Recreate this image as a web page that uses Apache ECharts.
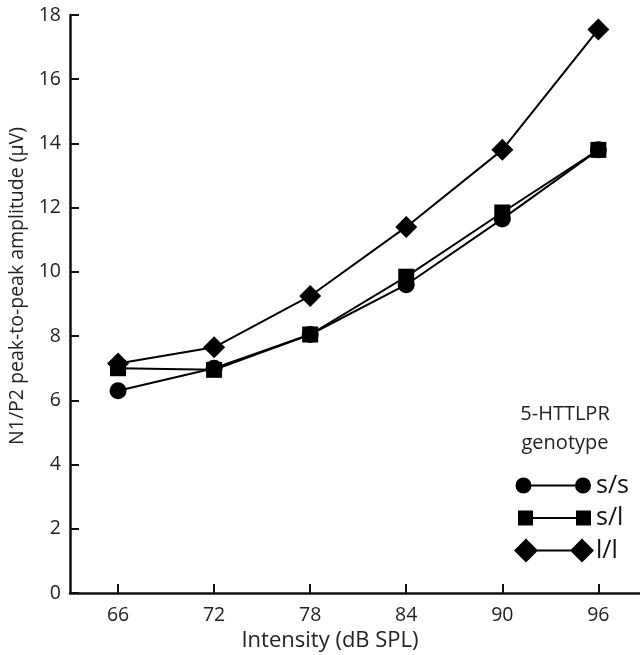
<!DOCTYPE html>
<html>
<head>
<meta charset="utf-8">
<script src="https://cdn.jsdelivr.net/npm/echarts@6/dist/echarts.min.js"></script>
<style>
  html, body { margin: 0; padding: 0; background: #fff; }
  #chart { width: 640px; height: 655px; }
</style>
</head>
<body>
<div id="chart"></div>
<script>
// intensity levels (dB SPL)
var intensity = [66, 72, 78, 84, 90, 96];
// N1/P2 amplitude (µV) per genotype
var ssVals = [6.3, 7.0, 8.05, 9.6, 11.65, 13.8];
var slVals = [7.0, 6.95, 8.05, 9.85, 11.85, 13.8];
var llVals = [7.15, 7.65, 9.25, 11.4, 13.8, 17.55];
var genotypes = ['s/s', 's/l', 'l/l'];

var font = '"Open Sans", "Liberation Sans", sans-serif';

function pairs(vals) {
  return intensity.map(function (x, i) { return [x, vals[i]]; });
}

// legend icons (80x24 box): marker - line - marker
// tiny corner specks keep every icon's bounding box the same
var corners = 'M0,0L0.01,0L0,0.01Z M80,24L79.99,24L80,23.99Z ';
var iconCircle = 'path://' + corners +
  'M1.5,12A8,8 0 1,1 17.5,12A8,8 0 1,1 1.5,12Z M16,11L62,11L62,13L16,13Z M61,12A8,8 0 1,1 77,12A8,8 0 1,1 61,12Z';
var iconSquare = 'path://' + corners +
  'M4,4.5L19,4.5L19,19.5L4,19.5Z M18,11L63,11L63,13L18,13Z M62,4.5L77,4.5L77,19.5L62,19.5Z';
var iconDiamond = 'path://' + corners +
  'M0,12L12,0L24,12L12,24Z M22,11L58,11L58,13L22,13Z M56,12L68,0L80,12L68,24Z';

var seriesBase = {
  type: 'line',
  lineStyle: {color: '#000', width: 2},
  itemStyle: {color: '#000'},
  symbolKeepAspect: true,
  z: 3
};

var chart = echarts.init(document.getElementById('chart'));
chart.setOption({
  animation: false,
  backgroundColor: '#fff',
  grid: {left: 70, right: 0, top: 15, bottom: 62, outerBoundsMode: 'none'},
  textStyle: {fontFamily: font},
  legend: {
    orient: 'vertical',
    left: 509,
    top: 468,
    itemWidth: 80,
    itemHeight: 24,
    itemGap: 7.5,
    symbolKeepAspect: false,
    selectedMode: false,
    data: [
      {name: genotypes[0], icon: iconCircle},
      {name: genotypes[1], icon: iconSquare},
      {name: genotypes[2], icon: iconDiamond}
    ],
    textStyle: {fontFamily: font, fontSize: 25, lineHeight: 20, color: '#111', padding: [0, 0, 0, -3]}
  },
  graphic: [
    {type: 'text', x: 565, y: 414, style: {text: '5-HTTLPR', fontFamily: font, fontSize: 20, fill: '#222', align: 'center', verticalAlign: 'middle'}},
    {type: 'text', x: 565, y: 443, style: {text: 'genotype', fontFamily: font, fontSize: 20, fill: '#222', align: 'center', verticalAlign: 'middle'}}
  ],
  xAxis: {
    type: 'value',
    min: 63,
    max: 98.6,
    name: 'Intensity (dB SPL)',
    nameLocation: 'middle',
    nameGap: 37,
    nameTextStyle: {fontFamily: font, fontSize: 22, color: '#222', padding: [0, 50, 0, 0]},
    splitLine: {show: false},
    axisLine: {lineStyle: {color: '#111', width: 2.5}},
    axisTick: {show: true, inside: true, length: 9, lineStyle: {color: '#111', width: 2}, customValues: intensity},
    axisLabel: {margin: 12, fontFamily: font, fontSize: 19.5, color: '#222', customValues: intensity}
  },
  yAxis: {
    type: 'value',
    min: 0,
    max: 18,
    interval: 2,
    name: 'N1/P2 peak-to-peak amplitude (µV)',
    nameLocation: 'middle',
    nameGap: 30,
    nameTextStyle: {fontFamily: font, fontSize: 19.5, color: '#222', padding: [0, 0, 0, 36]},
    splitLine: {show: false},
    axisLine: {show: true, lineStyle: {color: '#111', width: 2.5}},
    axisTick: {show: true, inside: true, length: 9, lineStyle: {color: '#111', width: 2}},
    axisLabel: {margin: 9, fontFamily: font, fontSize: 19.5, color: '#222'}
  },
  series: [
    Object.assign({}, seriesBase, {name: genotypes[0], symbol: 'circle', symbolSize: 17, data: pairs(ssVals)}),
    Object.assign({}, seriesBase, {name: genotypes[1], symbol: 'rect', symbolSize: 16, data: pairs(slVals)}),
    Object.assign({}, seriesBase, {name: genotypes[2], symbol: 'diamond', symbolSize: 22, data: pairs(llVals)})
  ]
});
</script>
</body>
</html>
